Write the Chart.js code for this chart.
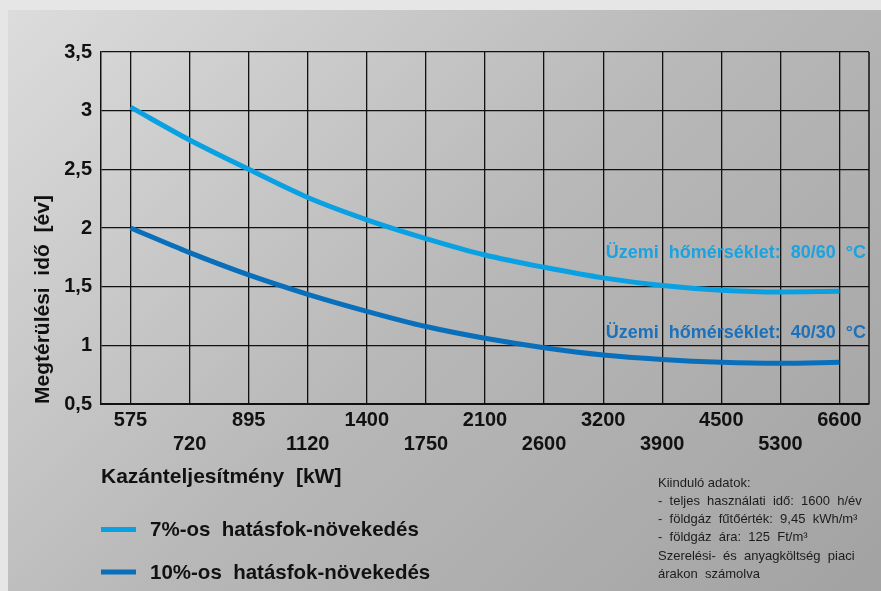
<!DOCTYPE html>
<html lang="hu">
<head>
<meta charset="utf-8">
<title>Megtérülési idő</title>
<script src="https://cdn.jsdelivr.net/npm/chart.js@4.4.1/dist/chart.umd.min.js"></script>
<style>
  html, body { margin: 0; padding: 0; background: #e6e6e6; }
  #wrap  { position: relative; width: 881px; height: 591px; overflow: hidden; }
  #panel { position: absolute; left: 8px; top: 10px; right: 0; bottom: 0;
           background: linear-gradient(136deg, #dcdcdc 0%, #b8b8b8 50%, #a2a2a2 100%); }
  #chart { position: absolute; left: 0; top: 0; }
</style>
</head>
<body>
<div id="wrap">
  <div id="panel"></div>
  <canvas id="chart" width="881" height="591"></canvas>
</div>
<script>
// --- data ---
const power  = ['575', '720', '895', '1120', '1400', '1750', '2100', '2600', '3200', '3900', '4500', '5300', '6600'];
const gain7  = [3.03, 2.75, 2.50, 2.26, 2.07, 1.91, 1.77, 1.665, 1.575, 1.51, 1.47, 1.455, 1.46];
const gain10 = [2.00, 1.79, 1.60, 1.435, 1.29, 1.16, 1.06, 0.98, 0.918, 0.88, 0.856, 0.847, 0.856];
const seriesNames = ['7%-os  hatásfok-növekedés', '10%-os  hatásfok-növekedés'];
const seriesColors = ['#0aa1e3', '#0a6fbb'];
const tempLabels = ['Üzemi  hőmérséklet:  80/60  °C', 'Üzemi  hőmérséklet:  40/30  °C'];
const tempColors = ['#1aa3e0', '#1b71bc'];
const notes = [
  'Kiinduló adatok:',
  '-  teljes  használati  idő:  1600  h/év',
  '-  földgáz  fűtőérték:  9,45  kWh/m³',
  '-  földgáz  ára:  125  Ft/m³',
  'Szerelési-  és  anyagköltség  piaci',
  'árakon  számolva'
];

const FONT = '"Liberation Sans", Arial, Helvetica, sans-serif';
Chart.defaults.font.family = FONT;
Chart.defaults.color = '#111';

// right edge of the frame, temperature labels, legend and the notes block
const extras = {
  id: 'extras',
  afterDatasetsDraw(chart) {
    const { ctx, chartArea: a, scales: { y } } = chart;
    ctx.save();
    ctx.strokeStyle = '#111';
    ctx.lineWidth = 1.5;
    ctx.beginPath();
    ctx.moveTo(a.right, a.top);
    ctx.lineTo(a.right, a.bottom);
    ctx.stroke();

    ctx.font = 'bold 18px ' + FONT;
    ctx.textAlign = 'right';
    ctx.textBaseline = 'middle';
    const at = [1.79, 1.105];
    tempLabels.forEach((t, i) => {
      ctx.fillStyle = tempColors[i];
      ctx.fillText(t, a.right - 3, y.getPixelForValue(at[i]));
    });
    ctx.restore();
  },
  afterDraw(chart) {
    const { ctx, chartArea: a } = chart;
    ctx.save();
    // legend
    ctx.font = 'bold 20.5px ' + FONT;
    ctx.textAlign = 'left';
    ctx.textBaseline = 'middle';
    chart.data.datasets.forEach((ds, i) => {
      const ly = a.bottom + 125.5 + i * 42.4;
      ctx.strokeStyle = ds.borderColor;
      ctx.lineWidth = 5;
      ctx.beginPath();
      ctx.moveTo(a.left, ly);
      ctx.lineTo(a.left + 35, ly);
      ctx.stroke();
      ctx.fillStyle = '#111';
      ctx.fillText(ds.label, a.left + 49, ly + 1);
    });
    // notes
    ctx.font = '13px ' + FONT;
    ctx.fillStyle = '#1c1c1c';
    notes.forEach((t, i) => {
      ctx.fillText(t, a.right - 211, a.bottom + 79 + i * 18.3);
    });
    ctx.restore();
  }
};

new Chart(document.getElementById('chart'), {
  type: 'line',
  data: {
    labels: power,
    datasets: [
      { label: seriesNames[0], data: gain7,  borderColor: seriesColors[0] },
      { label: seriesNames[1], data: gain10, borderColor: seriesColors[1] }
    ]
  },
  options: {
    responsive: false,
    animation: false,
    layout: { padding: { top: 52, left: 8, right: 12, bottom: 101 } },
    elements: {
      line: { borderWidth: 5, cubicInterpolationMode: 'monotone', borderCapStyle: 'butt', fill: false },
      point: { radius: 0, hoverRadius: 0 }
    },
    plugins: {
      legend: { display: false },
      tooltip: { enabled: false }
    },
    scales: {
      x: {
        type: 'category',
        offset: true,
        afterFit(s) { s.height = 86; },
        grid: { offset: false, color: '#111', lineWidth: 1.3, drawTicks: false },
        border: { display: true, color: '#111', width: 2 },
        ticks: {
          autoSkip: false, maxRotation: 0, padding: 4,
          font: { size: 20, weight: 'bold' }, color: '#111',
          callback(v, i) { const t = this.getLabelForValue(v); return i % 2 ? ['', t] : t; }
        },
        title: {
          display: true, align: 'start', text: 'Kazánteljesítmény  [kW]',
          font: { size: 21, weight: 'bold' }, color: '#111', padding: { top: 0, bottom: 0 }
        }
      },
      y: {
        min: 0.5, max: 3.5,
        afterFit(s) { s.width = 93; },
        grid: { color: '#111', lineWidth: 1.3, drawTicks: false },
        border: { display: true, color: '#111', width: 1.5 },
        ticks: {
          stepSize: 0.5, padding: 9,
          font: { size: 20, weight: 'bold' }, color: '#111',
          callback: v => String(v).replace('.', ',')
        },
        title: {
          display: true, align: 'start', text: 'Megtérülési  idő  [év]',
          font: { size: 21, weight: 'bold' }, color: '#111', padding: { top: 23, bottom: 0 }
        }
      }
    }
  },
  plugins: [extras]
});
</script>
</body>
</html>
